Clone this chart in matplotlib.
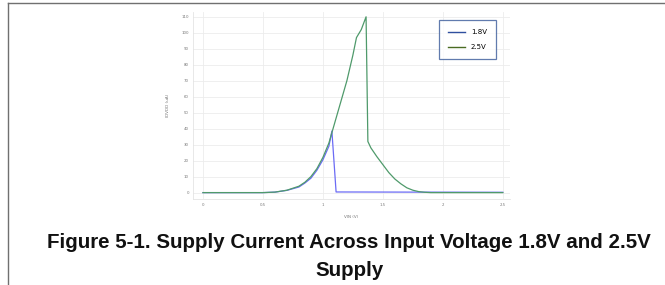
import matplotlib
matplotlib.use("Agg")
from matplotlib import pyplot as plt
from matplotlib.lines import Line2D

# supply current vs input voltage
vin_25 = [0, 0.5, 0.6, 0.7, 0.8, 0.85, 0.9, 0.95, 1.0, 1.05, 1.075, 1.1, 1.15,
          1.2, 1.25, 1.28, 1.32, 1.36, 1.375, 1.4, 1.45, 1.5, 1.55, 1.6, 1.65,
          1.7, 1.75, 1.8, 1.85, 1.9, 2.5]
idd_25 = [0, 0, 0.3, 1.5, 4, 6.5, 10, 15, 22, 31, 37.5, 44, 57,
          70, 86, 97, 102, 110, 32, 28, 22.5, 17.5, 12.5, 8.5, 5.5,
          3, 1.5, 0.6, 0.2, 0, 0]

vin_18 = [0, 0.5, 0.6, 0.7, 0.8, 0.85, 0.9, 0.95, 1.0, 1.05, 1.075, 1.11, 2.5]
idd_18 = [0, 0, 0.3, 1.4, 3.5, 6, 9, 14, 20.5, 29, 38.5, 0.4, 0.2]

x_ticks = [0, 0.5, 1, 1.5, 2, 2.5]
x_tick_labels = ["0", "0.5", "1", "1.5", "2", "2.5"]
y_ticks = list(range(0, 111, 10))

fig = plt.figure(figsize=(6.65, 2.85), dpi=100)

# page border (top and left only)
fig.add_artist(Line2D([8 / 665, 8 / 665], [0, 1 - 3 / 285], color="#707070", lw=1.0))
fig.add_artist(Line2D([8 / 665, 1], [1 - 3 / 285, 1 - 3 / 285], color="#707070", lw=1.0))

ax = fig.add_axes([193 / 665, 1 - 199 / 285, (510 - 193) / 665, (199 - 12) / 285])
ax.plot(vin_18, idd_18, color="#6b6bf5", lw=0.9)
ax.plot(vin_25, idd_25, color="#4f9a6b", lw=0.9)

ax.set_xlim(-0.083, 2.56)
ax.set_ylim(-4, 113)
ax.set_xticks(x_ticks)
ax.set_xticklabels(x_tick_labels)
ax.set_yticks(y_ticks)
ax.tick_params(labelsize=2.8, colors="#777777", length=0, pad=3)
ax.grid(True, color="#ececec", lw=0.6)
for side in ["top", "right"]:
    ax.spines[side].set_visible(False)
for side in ["left", "bottom"]:
    ax.spines[side].set_color("#e4e4e4")
    ax.spines[side].set_linewidth(0.6)

ax.set_xlabel("VIN (V)", fontsize=3, color="#777777", labelpad=6)
ax.set_ylabel("IDVDD (uA)", fontsize=3, color="#777777", labelpad=8)

handles = [Line2D([], [], color="#2f4f9f", lw=1.0), Line2D([], [], color="#4a6b22", lw=1.0)]
leg = ax.legend(handles, ["1.8V", "2.5V"], loc="upper left",
                bbox_to_anchor=((439 - 193) / 317, 1 - (20 - 12) / 187),
                borderaxespad=0, fontsize=5, frameon=True, fancybox=False,
                handlelength=2.4, borderpad=1.3, labelspacing=1.3, handletextpad=0.9)
leg.get_frame().set_edgecolor("#3a5a9a")
leg.get_frame().set_linewidth(0.9)

fig.text(0.525, 1 - 243 / 285, "Figure 5-1. Supply Current Across Input Voltage 1.8V and 2.5V",
         ha="center", va="center", fontsize=14.8, fontweight="bold",
         family="Liberation Sans", color="#111111")
fig.text(0.525, 1 - 270 / 285, "Supply", ha="center", va="center", fontsize=14.8,
         fontweight="bold", family="Liberation Sans", color="#111111")

plt.savefig("out.png", dpi=100)
